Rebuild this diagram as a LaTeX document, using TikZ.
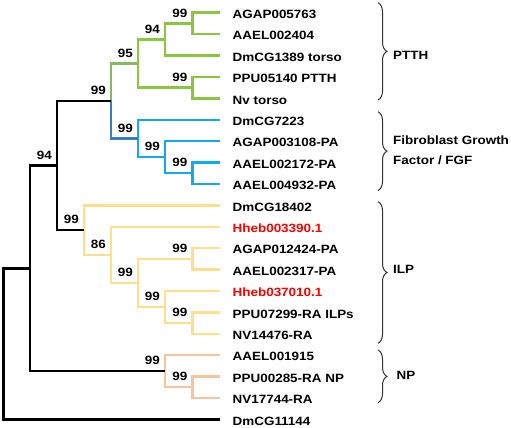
\documentclass[tikz,border=0pt]{standalone}
\usepackage{fontspec}
\setmainfont{Liberation Sans}[FakeStretch=1.12]
\usetikzlibrary{positioning,decorations.pathreplacing}
\definecolor{ptthgreen}{HTML}{8CC63F}
\definecolor{ptthmid}{HTML}{86BA5E}
\definecolor{fgfblue}{HTML}{12AAEC}
\definecolor{fgfmid}{HTML}{3C7DC2}
\definecolor{ilpyellow}{HTML}{FFDF8C}
\definecolor{npsalmon}{HTML}{F8C49C}
\definecolor{hhebred}{HTML}{FF0000}
\tikzset{
  leaf/.style={
    anchor=west,
    inner xsep=12.5pt,
    inner ysep=0pt,
    text height=11.5pt,
    text depth=0pt,
    font=\fontsize{12}{13}\selectfont\bfseries
  },
  boot/.style={
    inner sep=0pt,
    font=\fontsize{12}{13}\selectfont\bfseries
  },
  branch/.style={
    line width=2.4pt
  },
  group/.style={
    decorate,
    decoration={brace, amplitude=9pt},
    line width=1pt,
    draw=black!80
  },
  grouplabel/.style={
    anchor=west,
    align=left,
    inner sep=0pt,
    font=\fontsize{12}{20}\selectfont\bfseries
  }
}

\begin{document}
\begin{tikzpicture}[x=1pt, y=-1pt]
\useasboundingbox (0,0) rectangle (511,428);

% leaves
\node[leaf] (l0) at (220,12.7) {AGAP005763};
\node[leaf] (l1) at (220,34.1) {AAEL002404};
\node[leaf] (l2) at (220,55.5) {DmCG1389 torso};
\node[leaf] (l3) at (220,76.9) {PPU05140 PTTH};
\node[leaf] (l4) at (220,98.3) {Nv torso};
\node[leaf] (l5) at (220,119.7) {DmCG7223};
\node[leaf] (l6) at (220,141.1) {AGAP003108-PA};
\node[leaf] (l7) at (220,162.5) {AAEL002172-PA};
\node[leaf] (l8) at (220,183.9) {AAEL004932-PA};
\node[leaf] (l9) at (220,205.3) {DmCG18402};
\node[leaf, text=hhebred] (l10) at (220,226.7) {Hheb003390.1};
\node[leaf] (l11) at (220,248.1) {AGAP012424-PA};
\node[leaf] (l12) at (220,269.5) {AAEL002317-PA};
\node[leaf, text=hhebred] (l13) at (220,290.9) {Hheb037010.1};
\node[leaf] (l14) at (220,312.3) {PPU07299-RA ILPs};
\node[leaf] (l15) at (220,333.7) {NV14476-RA};
\node[leaf] (l16) at (220,355.1) {AAEL001915};
\node[leaf] (l17) at (220,376.5) {PPU00285-RA NP};
\node[leaf] (l18) at (220,397.9) {NV17744-RA};
\node[leaf] (l19) at (220,419.3) {DmCG11144};

% inner nodes
\coordinate (aa) at (192.5,23.4);
\coordinate (bb) at (165,39.45);
\coordinate (cc) at (192.5,87.6);
\coordinate (ptth) at (138,63.5);
\coordinate (ee) at (192.5,173.2);
\coordinate (ff) at (165,157.15);
\coordinate (fgf) at (138,138.4);
\coordinate (hh) at (111,100.95);
\coordinate (ii) at (192.5,258.8);
\coordinate (jj) at (192.5,323);
\coordinate (kk) at (165,306.95);
\coordinate (ll) at (138,282.9);
\coordinate (mm) at (111,254.8);
\coordinate (ilp) at (84,230.05);
\coordinate (oo) at (57,165.5);
\coordinate (pp) at (192.5,387.2);
\coordinate (np) at (165,371.15);
\coordinate (rr) at (30,268.3);
\coordinate (root) at (3.5,343.8);

% branches
\draw[branch, ptthgreen] (aa) |- (l0) (aa) |- (l1);
\draw[branch, ptthgreen] (bb) |- (aa) (bb) |- (l2);
\draw[branch, ptthgreen] (cc) |- (l3) (cc) |- (l4);
\draw[branch, ptthgreen] (ptth) |- (bb) (ptth) |- (cc);
\draw[branch, fgfblue] (ee) |- (l7) (ee) |- (l8);
\draw[branch, fgfblue] (ff) |- (l6) (ff) |- (ee);
\draw[branch, fgfblue] (fgf) |- (l5) (fgf) |- (ff);
\draw[branch, ptthmid] (hh) |- (ptth);
\draw[branch, fgfmid] (hh) |- (fgf);
\draw[branch, ilpyellow] (ii) |- (l11) (ii) |- (l12);
\draw[branch, ilpyellow] (jj) |- (l14) (jj) |- (l15);
\draw[branch, ilpyellow] (kk) |- (l13) (kk) |- (jj);
\draw[branch, ilpyellow] (ll) |- (ii) (ll) |- (kk);
\draw[branch, ilpyellow] (mm) |- (l10) (mm) |- (ll);
\draw[branch, ilpyellow] (ilp) |- (l9) (ilp) |- (mm);
\draw[branch, npsalmon] (pp) |- (l17) (pp) |- (l18);
\draw[branch, npsalmon] (np) |- (l16) (np) |- (pp);
\draw[branch] (oo) |- (hh) (oo) |- (ilp);
\draw[branch] (rr) |- (oo) (rr) |- (np);
\draw[branch] (root) |- (rr) (root) |- (l19);

% support values
\node[boot, above left=6pt and 5pt of aa] (baa) {99};
\node[boot, above left=6pt and 5pt of bb] (bbb) {94};
\node[boot, above left=6pt and 5pt of cc] (bcc) {99};
\node[boot, above left=6pt and 5pt of ptth] (bptth) {95};
\node[boot, above left=6pt and 5pt of hh] (bhh) {99};
\node[boot, above left=6pt and 5pt of fgf] (bfgf) {99};
\node[boot, above left=6pt and 5pt of ff] (bff) {99};
\node[boot, above left=6pt and 5pt of ee] (bee) {99};
\node[boot, above left=6pt and 5pt of oo] (boo) {94};
\node[boot, above left=6pt and 5pt of ilp] (bilp) {99};
\node[boot, above left=6pt and 5pt of mm] (bmm) {86};
\node[boot, above left=6pt and 5pt of ll] (bll) {99};
\node[boot, above left=6pt and 5pt of ii] (bii) {99};
\node[boot, above left=6pt and 5pt of kk] (bkk) {99};
\node[boot, above left=6pt and 5pt of jj] (bjj) {99};
\node[boot, above left=6pt and 5pt of np] (bnp) {99};
\node[boot, above left=6pt and 5pt of pp] (bpp) {99};

% groups
\draw[group] (378,2.7) -- (378,100);
\draw[group] (378,111.7) -- (378,190.5);
\draw[group] (378,201.7) -- (378,343.3);
\draw[group] (378,350) -- (378,402.7);
\node[grouplabel] (gptth) at (393,55) {PTTH};
\node[grouplabel] (gfgf) at (393,150) {Fibroblast Growth\\Factor / FGF};
\node[grouplabel] (gilp) at (393,269) {ILP};
\node[grouplabel] (gnp) at (396.5,375.5) {NP};

\end{tikzpicture}
\end{document}
